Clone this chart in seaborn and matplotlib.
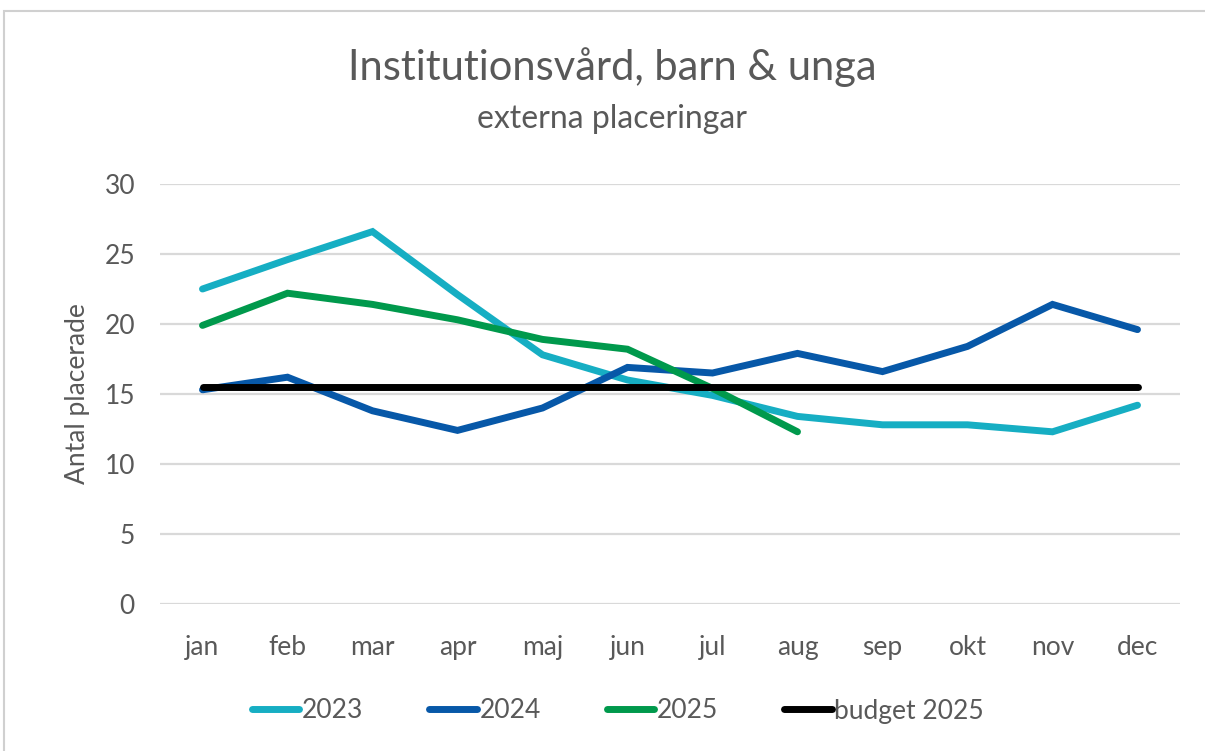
import matplotlib
matplotlib.use("Agg")
import matplotlib.pyplot as plt
import seaborn as sns
import pandas as pd
import numpy as np

months = ['jan', 'feb', 'mar', 'apr', 'maj', 'jun', 'jul', 'aug', 'sep', 'okt', 'nov', 'dec']
v2023 = [22.5, 24.6, 26.6, 22.1, 17.8, 16.0, 14.9, 13.4, 12.8, 12.8, 12.3, 14.2]
v2024 = [15.3, 16.2, 13.8, 12.4, 14.0, 16.9, 16.5, 17.9, 16.6, 18.4, 21.4, 19.6]
v2025 = [19.9, 22.2, 21.4, 20.3, 18.9, 18.2, 15.4, 12.3, np.nan, np.nan, np.nan, np.nan]
budget = [15.5] * 12

series = {'2023': v2023, '2024': v2024, '2025': v2025, 'budget 2025': budget}
colors = {'2023': '#16AEC3', '2024': '#0758A8', '2025': '#00994C', 'budget 2025': '#000000'}

rows = []
for name, vals in series.items():
    for i, (m, v) in enumerate(zip(months, vals)):
        rows.append({'idx': i, 'month': m, 'serie': name, 'värde': v})
df = pd.DataFrame(rows)

sns.set_style("white")
plt.rcParams['font.family'] = ['Lato', 'DejaVu Sans']
grey = '#595959'

fig = plt.figure(figsize=(12.05, 7.51), dpi=100)
ax = fig.add_axes([160 / 1205, 1 - 604 / 751, 1020 / 1205, 420 / 751])

sns.lineplot(data=df, x='idx', y='värde', hue='serie', palette=colors,
             linewidth=5, ax=ax, sort=False, legend=True)
for line in ax.lines:
    line.set_solid_capstyle('round')
    line.set_solid_joinstyle('miter')

ax.set_xlim(-0.5, 11.5)
ax.set_ylim(0, 30)
ax.set_xticks(range(12))
ax.set_xticklabels(months)
ax.set_yticks(range(0, 31, 5))
ax.yaxis.grid(True, color='#D9D9D9', linewidth=1.6)
ax.set_axisbelow(True)
for s in ax.spines.values():
    s.set_visible(False)
ax.tick_params(axis='both', length=0, labelsize=19, colors=grey)
ax.tick_params(axis='x', pad=22)
ax.tick_params(axis='y', pad=18)
ax.set_xlabel('')
ax.set_ylabel('Antal placerade', fontsize=19, color=grey, labelpad=10)

fig.text(0.508, 1 - 67 / 751, 'Institutionsvård, barn & unga', ha='center', va='center',
         fontsize=30, color=grey)
fig.text(0.508, 1 - 119 / 751, 'externa placeringar', ha='center', va='center',
         fontsize=23, color=grey)

handles, labels = ax.get_legend_handles_labels()
ax.legend(handles, labels, loc='center', bbox_to_anchor=(618 / 1205, 1 - 711 / 751),
          bbox_transform=fig.transFigure, ncol=4, frameon=False, fontsize=19,
          handlelength=1.8, handletextpad=0.1, columnspacing=2.5, labelcolor=grey)
for h in ax.get_legend().get_lines():
    h.set_linewidth(5)
    h.set_solid_capstyle('round')

fig.patches.append(plt.Rectangle((4 / 1205, -0.01), 1.2, 1 - 11 / 751 + 0.01,
                                 transform=fig.transFigure, fill=False,
                                 edgecolor='#D0D0D0', linewidth=1.5))

fig.savefig('out.png', dpi=100)
